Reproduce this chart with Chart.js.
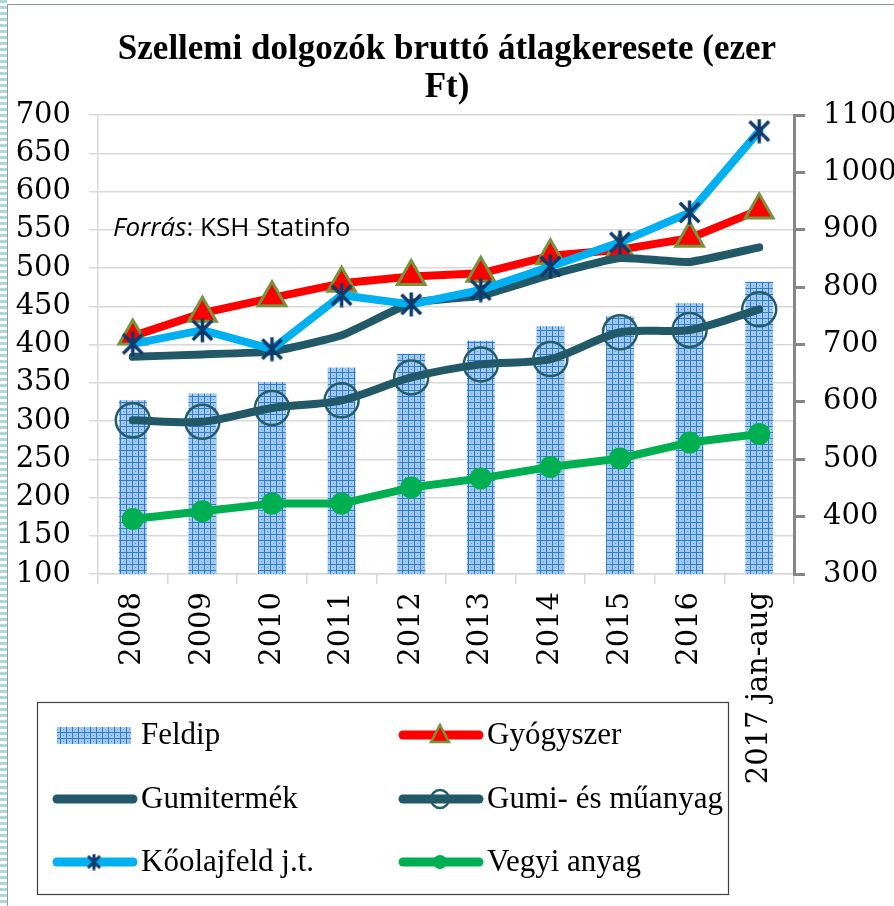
<!DOCTYPE html>
<html>
<head>
<meta charset="utf-8">
<script src="https://cdn.jsdelivr.net/npm/chart.js@4.4.0/dist/chart.umd.min.js"></script>
<style>
  html, body { margin: 0; padding: 0; background: #fff; }
  #wrap { position: relative; width: 894px; height: 906px; overflow: hidden; }
  canvas { position: absolute; left: 0; top: 0; }
  #stripe { position: absolute; left: 0; top: 0; width: 7px; height: 906px;
    background: repeating-linear-gradient(to bottom, #a9d9dc 0 3px, #fff 3px 6px); }
  #frameL { position: absolute; left: 7px; top: 4px; width: 1px; height: 902px; background: #8c9ca2; }
  #frameT { position: absolute; left: 7px; top: 4px; width: 887px; height: 1px; background: #8c9ca2; }
</style>
</head>
<body>
<div id="wrap">
  <canvas id="keresetChart" width="894" height="906"></canvas>
  <div id="stripe"></div>
  <div id="frameL"></div>
  <div id="frameT"></div>
</div>
<script>
// Szellemi dolgozók bruttó átlagkeresete (ezer Ft)
const categories = ['2008', '2009', '2010', '2011', '2012', '2013', '2014', '2015', '2016', '2017 jan-aug'];
const feldip = [327, 336, 351, 370, 388, 405, 424, 437, 454, 482];
const gyogyszer = [411, 441, 461, 480, 489, 493, 516, 524, 539, 576];
const gumitermek = [384, 387, 391, 412, 454, 464, 491, 513, 508, 527];
const gumiMuanyag = [301, 299, 317, 327, 357, 374, 381, 416, 419, 446];
const koolajfeld = [701, 725, 692, 786, 770, 795, 836, 878, 930, 1072]; // jobb tengely
const vegyiAnyag = [172, 182, 192, 192, 213, 225, 240, 251, 272, 283];

const titleLines = ['Szellemi dolgozók bruttó átlagkeresete (ezer', 'Ft)'];

// pattern for the Feldip bars
function barPattern() {
    const c = document.createElement('canvas');
    c.width = 6; c.height = 6;
    const g = c.getContext('2d');
    g.fillStyle = '#a3c9ec';
    g.fillRect(0, 0, 6, 6);
    g.fillStyle = '#2f7cc8';
    g.fillRect(0, 0, 6, 1);
    g.fillRect(0, 0, 1, 6);
    g.fillStyle = '#5a9ad8';
    g.fillRect(3, 3, 1, 1);
    return g.createPattern(c, 'repeat');
}

// asterisk marker (X + vertical bar)
function asterisk(size, lw) {
    const c = document.createElement('canvas');
    c.width = size; c.height = size;
    const g = c.getContext('2d');
    g.strokeStyle = '#0f3a6b';
    g.lineWidth = lw;
    const m = lw / 2 + 1;
    g.beginPath();
    g.moveTo(m, m); g.lineTo(size - m, size - m);
    g.moveTo(size - m, m); g.lineTo(m, size - m);
    g.moveTo(size / 2, 0.5); g.lineTo(size / 2, size - 0.5);
    g.stroke();
    return c;
}

const pattern = barPattern();
const starBig = asterisk(25, 3.5);
const starSmall = asterisk(17, 3);

const tickFont = { family: 'DejaVu Serif', size: 29 };

// legend box drawn below the plot, over the label area
const boxLegend = {
    id: 'boxLegend',
    afterDraw(chart) {
        const ctx = chart.ctx;
        const colX = [53, 399];
        const rowY = [735, 799, 862];
        ctx.save();
        ctx.fillStyle = '#fff';
        ctx.fillRect(37, 702, 692, 193);
        ctx.strokeStyle = '#404040';
        ctx.lineWidth = 1.2;
        ctx.strokeRect(37.5, 702.5, 691, 192);
        chart.data.datasets.forEach((ds, i) => {
            const x0 = colX[i % 2];
            const y = rowY[Math.floor(i / 2)];
            const mx = x0 + 41;
            if (ds.type === 'bar') {
                ctx.fillStyle = ds.backgroundColor;
                ctx.fillRect(x0 + 4, y - 8, 74, 17);
            } else {
                ctx.strokeStyle = ds.borderColor;
                ctx.lineWidth = 9;
                ctx.lineCap = 'round';
                ctx.beginPath();
                ctx.moveTo(x0 + 4, y);
                ctx.lineTo(x0 + 80, y);
                ctx.stroke();
                if (ds.pointStyle === 'triangle') {
                    ctx.fillStyle = ds.pointBackgroundColor;
                    ctx.strokeStyle = ds.pointBorderColor;
                    ctx.lineWidth = 2.5;
                    ctx.beginPath();
                    ctx.moveTo(mx, y - 10);
                    ctx.lineTo(mx + 9, y + 7);
                    ctx.lineTo(mx - 9, y + 7);
                    ctx.closePath();
                    ctx.fill();
                    ctx.stroke();
                } else if (ds.pointStyle === 'circle' && ds.pointRadius > 0) {
                    ctx.beginPath();
                    ctx.arc(mx, y, ds.legendRadius, 0, Math.PI * 2);
                    if (ds.pointBackgroundColor !== 'rgba(0,0,0,0)') {
                        ctx.fillStyle = ds.pointBackgroundColor;
                        ctx.fill();
                    }
                    if (ds.pointBorderWidth > 0) {
                        ctx.strokeStyle = ds.pointBorderColor;
                        ctx.lineWidth = 2.5;
                        ctx.stroke();
                    }
                } else if (ds.pointStyle instanceof HTMLCanvasElement) {
                    ctx.drawImage(starSmall, mx - 8.5, y - 8.5);
                }
            }
            ctx.fillStyle = '#000';
            ctx.font = '31px "Liberation Serif"';
            ctx.textBaseline = 'middle';
            ctx.textAlign = 'left';
            ctx.fillText(ds.label, x0 + 88, y + 1);
        });
        ctx.restore();
    }
};

// source note inside the plot
const sourceNote = {
    id: 'sourceNote',
    afterDraw(chart) {
        const ctx = chart.ctx;
        ctx.save();
        ctx.fillStyle = '#000';
        ctx.textBaseline = 'alphabetic';
        ctx.font = 'italic 26px "Open Sans"';
        ctx.fillText('Forrás', 113, 236);
        const w = ctx.measureText('Forrás').width;
        ctx.font = '26px "Open Sans"';
        ctx.fillText(': KSH Statinfo', 113 + w, 236);
        ctx.restore();
    }
};

const ctx1 = document.getElementById('keresetChart').getContext('2d');
new Chart(ctx1, {
    type: 'bar',
    data: {
        labels: categories,
        datasets: [{
            type: 'bar',
            label: 'Feldip',
            data: feldip,
            backgroundColor: pattern,
            barPercentage: 0.4,
            categoryPercentage: 1,
            yAxisID: 'y',
            order: 6
        }, {
            type: 'line',
            label: 'Gyógyszer',
            data: gyogyszer,
            borderColor: '#ff0000',
            borderWidth: 8,
            pointStyle: 'triangle',
            pointRadius: 16,
            pointBackgroundColor: '#ff0000',
            pointBorderColor: '#77933c',
            pointBorderWidth: 3,
            yAxisID: 'y',
            order: 5
        }, {
            type: 'line',
            label: 'Gumitermék',
            data: gumitermek,
            borderColor: '#215968',
            borderWidth: 8,
            pointStyle: 'circle',
            pointRadius: 0,
            tension: 0.15,
            yAxisID: 'y',
            order: 4
        }, {
            type: 'line',
            label: 'Gumi- és műanyag',
            data: gumiMuanyag,
            borderColor: '#215968',
            borderWidth: 8,
            pointStyle: 'circle',
            pointRadius: 17,
            legendRadius: 9,
            pointBackgroundColor: 'rgba(0,0,0,0)',
            pointBorderColor: '#255c6a',
            pointBorderWidth: 2.5,
            tension: 0.3,
            yAxisID: 'y',
            order: 3
        }, {
            type: 'line',
            label: 'Kőolajfeld j.t.',
            data: koolajfeld,
            borderColor: '#00b0f0',
            borderWidth: 8,
            pointStyle: starBig,
            pointRadius: 12,
            yAxisID: 'y1',
            order: 2
        }, {
            type: 'line',
            label: 'Vegyi anyag',
            data: vegyiAnyag,
            borderColor: '#00b050',
            borderWidth: 8,
            pointStyle: 'circle',
            pointRadius: 11,
            legendRadius: 7,
            pointBackgroundColor: '#00b050',
            pointBorderColor: '#00b050',
            pointBorderWidth: 0,
            yAxisID: 'y',
            order: 1
        }]
    },
    options: {
        responsive: false,
        animation: false,
        events: [],
        layout: { padding: 0 },
        elements: {
            line: { borderJoinStyle: 'round', borderCapStyle: 'round' }
        },
        plugins: {
            legend: { display: false },
            tooltip: { enabled: false },
            title: {
                display: true,
                text: titleLines,
                color: '#000',
                font: { family: 'Liberation Serif', size: 35, weight: 'bold', lineHeight: 1.086 },
                padding: { top: 31, bottom: 8 }
            }
        },
        scales: {
            x: {
                offset: true,
                grid: { drawOnChartArea: false, drawTicks: true, tickLength: 10, color: '#d9d9d9', lineWidth: 1.5, offset: true },
                border: { display: true, color: '#d9d9d9', width: 1.5 },
                ticks: { autoSkip: false, minRotation: 90, maxRotation: 90, padding: 8, color: '#000', font: tickFont },
                afterFit(scale) { scale.height = 332; }
            },
            y: {
                position: 'left',
                min: 100,
                max: 700,
                ticks: { stepSize: 50, padding: 18, color: '#000', font: tickFont },
                grid: { color: '#d9d9d9', lineWidth: 1.5, tickLength: 9 },
                border: { color: '#d9d9d9', width: 1.5 },
                afterFit(scale) { scale.width = 98; }
            },
            y1: {
                position: 'right',
                min: 300,
                max: 1100,
                ticks: {
                    stepSize: 100, padding: 18, color: '#000', font: tickFont,
                    callback: (v) => String(v)
                },
                grid: { drawOnChartArea: false, color: '#868686', lineWidth: 3, tickLength: 11 },
                border: { color: '#868686', width: 3 },
                afterFit(scale) { scale.width = 100; }
            }
        }
    },
    plugins: [boxLegend, sourceNote]
});
</script>
</body>
</html>
